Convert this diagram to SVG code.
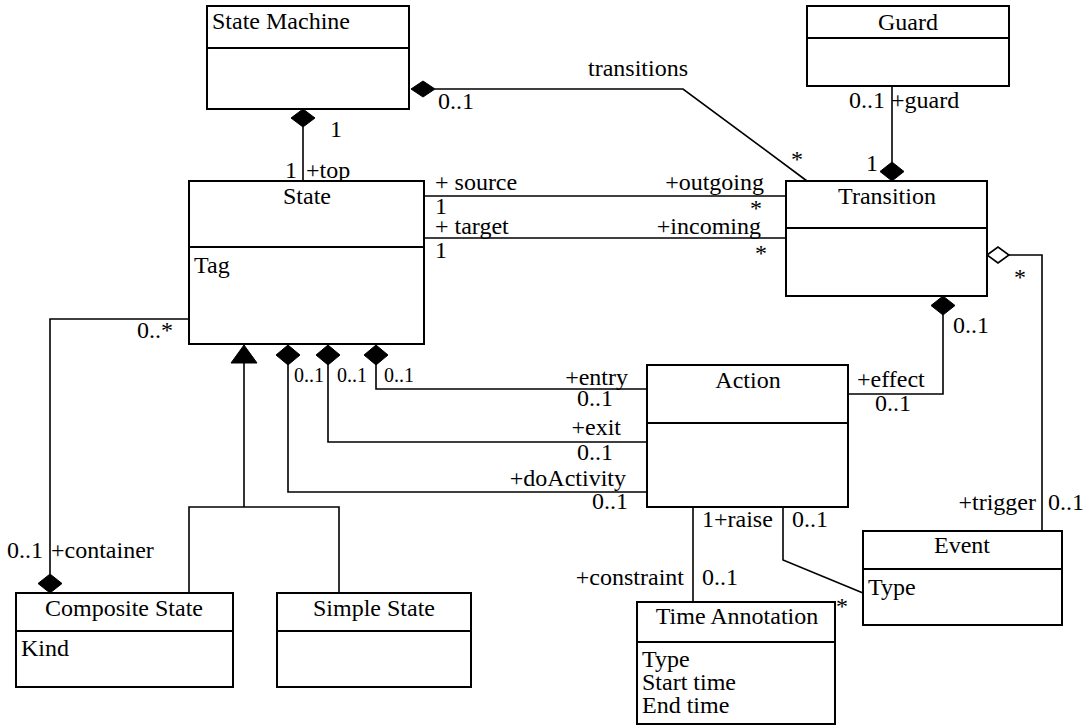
<svg xmlns="http://www.w3.org/2000/svg" width="1089" height="726" viewBox="0 0 1089 726" font-family="'Liberation Serif', 'Times New Roman', Times, serif">
  <style>
    .box { fill: #fff; stroke: #000; stroke-width: 2; }
    .div { stroke: #000; stroke-width: 2; }
    .ln { fill: none; stroke: #000; stroke-width: 1.6; }
    text { font-size: 24px; fill: #000; }
    .c { text-anchor: middle; }
    .e { text-anchor: end; }
    .s { font-size: 20px; }
    .fd { fill: #000; stroke: #000; stroke-width: 1; }
    .od { fill: #fff; stroke: #000; stroke-width: 1.6; }
  </style>

  <!-- associations -->
  <g id="connectors">
    <!-- StateMachine -> Transition -->
    <polyline class="ln" points="435,89 683,89 807,181"/>
    <path class="fd" d="M411,89 L423,81 L435,89 L423,97 Z"/>
    <text x="438" y="109">0..1</text>
    <text x="588" y="76">transitions</text>
    <text x="791" y="167">*</text>

    <!-- StateMachine -> State (top) -->
    <line class="ln" x1="303" y1="127" x2="303" y2="181"/>
    <path class="fd" d="M303,109 L315,118 L303,127 L291,118 Z"/>
    <text x="330" y="137">1</text>
    <text x="285" y="178">1</text>
    <text x="306" y="178">+top</text>

    <!-- Guard -> Transition -->
    <line class="ln" x1="892" y1="86" x2="892" y2="162"/>
    <path class="fd" d="M892,162 L904,171.5 L892,181 L880,171.5 Z"/>
    <text class="e" x="885" y="108">0..1</text>
    <text x="891" y="108">+guard</text>
    <text x="866" y="171">1</text>

    <!-- State -> Transition: source / outgoing -->
    <line class="ln" x1="424" y1="196" x2="786" y2="196"/>
    <text x="435" y="190">+ source</text>
    <text x="435" y="214">1</text>
    <text class="e" x="764" y="190">+outgoing</text>
    <text x="750" y="216">*</text>

    <!-- State -> Transition: target / incoming -->
    <line class="ln" x1="424" y1="238" x2="786" y2="238"/>
    <text x="435" y="234">+ target</text>
    <text x="435" y="258">1</text>
    <text class="e" x="761" y="234">+incoming</text>
    <text x="755" y="261">*</text>

    <!-- Transition -> Event (trigger) -->
    <polyline class="ln" points="1009,255 1042,255 1042,531"/>
    <path class="od" d="M987,255 L998,247 L1009,255 L998,263 Z"/>
    <text x="1014" y="285">*</text>
    <text class="e" x="1036" y="510">+trigger</text>
    <text x="1048" y="510">0..1</text>

    <!-- Transition -> Action (effect) -->
    <polyline class="ln" points="943,315 943,394 848,394"/>
    <path class="fd" d="M943,296 L955,305.5 L943,315 L931,305.5 Z"/>
    <text x="953" y="333">0..1</text>
    <text x="857" y="387">+effect</text>
    <text x="875" y="411">0..1</text>

    <!-- State -> Action: entry / exit / doActivity -->
    <polyline class="ln" points="376,365 376,389 647,389"/>
    <path class="fd" d="M376,345 L388,355 L376,365 L364,355 Z"/>
    <polyline class="ln" points="328,365 328,442 647,442"/>
    <path class="fd" d="M328,345 L340,355 L328,365 L316,355 Z"/>
    <polyline class="ln" points="288,365 288,492 647,492"/>
    <path class="fd" d="M288,345 L300,355 L288,365 L276,355 Z"/>
    <text class="s" x="294" y="382">0..1</text>
    <text class="s" x="337" y="382">0..1</text>
    <text class="s" x="384" y="382">0..1</text>
    <text class="e" x="628" y="385">+entry</text>
    <text x="577" y="406">0..1</text>
    <text class="e" x="621" y="435">+exit</text>
    <text x="577" y="460">0..1</text>
    <text class="e" x="626" y="486">+doActivity</text>
    <text x="592" y="509">0..1</text>

    <!-- State generalisation -->
    <polyline class="ln" points="244,363 244,507"/>
    <polyline class="ln" points="189,593 189,507 339,507 339,593"/>
    <path class="fd" d="M244,345 L257,363 L231,363 Z"/>

    <!-- State -> CompositeState (container) -->
    <polyline class="ln" points="189,319 50,319 50,574"/>
    <path class="fd" d="M50,574 L62,583.5 L50,593 L38,583.5 Z"/>
    <text x="137" y="338">0..*</text>
    <text x="7" y="558">0..1</text>
    <text x="51" y="558">+container</text>

    <!-- Action -> TimeAnnotation (constraint) -->
    <line class="ln" x1="693" y1="507" x2="693" y2="602"/>
    <text x="702" y="527">1+raise</text>
    <text class="e" x="684" y="585">+constraint</text>
    <text x="702" y="585">0..1</text>

    <!-- Action -> Event -->
    <polyline class="ln" points="783,507 783,560 863,593"/>
    <text x="792" y="527">0..1</text>
    <text x="836" y="614">*</text>
  </g>

  <g id="state-machine">
    <rect class="box" x="207" y="6" width="202" height="103"/>
    <line class="div" x1="207" y1="48" x2="409" y2="48"/>
    <text x="212" y="29">State Machine</text>
  </g>

  <g id="guard">
    <rect class="box" x="807" y="6" width="202" height="80"/>
    <line class="div" x1="807" y1="38" x2="1009" y2="38"/>
    <text class="c" x="908" y="30">Guard</text>
  </g>

  <g id="state">
    <rect class="box" x="189" y="181" width="235" height="163"/>
    <line class="div" x1="189" y1="247" x2="424" y2="247"/>
    <text class="c" x="307" y="204">State</text>
    <text x="194" y="273">Tag</text>
  </g>

  <g id="transition">
    <rect class="box" x="786" y="181" width="201" height="115"/>
    <line class="div" x1="786" y1="228" x2="987" y2="228"/>
    <text class="c" x="887" y="204">Transition</text>
  </g>

  <g id="action">
    <rect class="box" x="647" y="365" width="201" height="142"/>
    <line class="div" x1="647" y1="423" x2="848" y2="423"/>
    <text class="c" x="748" y="388">Action</text>
  </g>

  <g id="composite-state">
    <rect class="box" x="16" y="593" width="217" height="94"/>
    <line class="div" x1="16" y1="631" x2="233" y2="631"/>
    <text class="c" x="124" y="616">Composite State</text>
    <text x="21" y="656">Kind</text>
  </g>

  <g id="simple-state">
    <rect class="box" x="277" y="593" width="194" height="94"/>
    <line class="div" x1="277" y1="631" x2="471" y2="631"/>
    <text class="c" x="374" y="616">Simple State</text>
  </g>

  <g id="time-annotation">
    <rect class="box" x="637" y="602" width="198" height="122"/>
    <line class="div" x1="637" y1="642" x2="835" y2="642"/>
    <text class="c" x="737" y="624">Time Annotation</text>
    <text x="642" y="667">Type</text>
    <text x="642" y="690">Start time</text>
    <text x="642" y="713">End time</text>
  </g>

  <g id="event">
    <rect class="box" x="863" y="531" width="199" height="94"/>
    <line class="div" x1="863" y1="569" x2="1062" y2="569"/>
    <text class="c" x="962" y="553">Event</text>
    <text x="868" y="595">Type</text>
  </g>
</svg>
